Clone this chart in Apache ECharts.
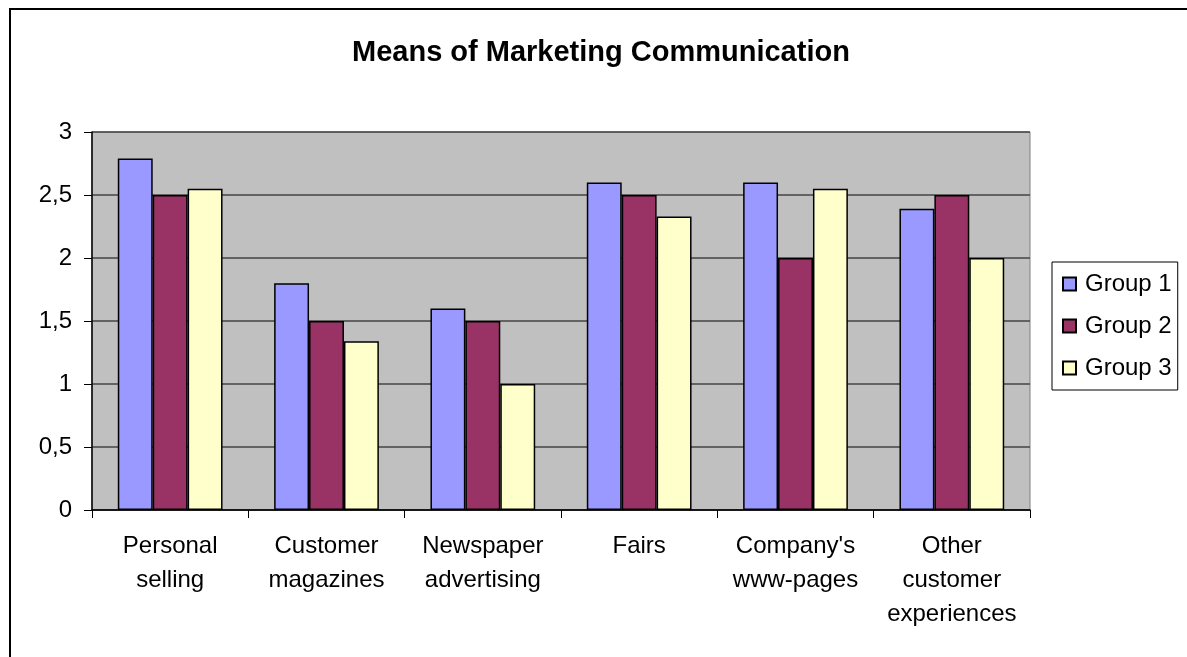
<!DOCTYPE html>
<html>
<head>
<meta charset="utf-8">
<script src="https://cdn.jsdelivr.net/npm/echarts@6/dist/echarts.min.js"></script>
<style>
html,body{margin:0;padding:0;background:#fff;}
#chart{width:1187px;height:657px;}
</style>
</head>
<body>
<div id="chart"></div>
<script>
const titleText = 'Means of Marketing Communication';
const categories = ['Personal selling', 'Customer magazines', 'Newspaper advertising', 'Fairs', "Company's www-pages", 'Other customer experiences'];
const seriesNames = ['Group 1', 'Group 2', 'Group 3'];
const group1 = [2.79, 1.80, 1.60, 2.60, 2.60, 2.39];
const group2 = [2.50, 1.50, 1.50, 2.50, 2.00, 2.50];
const group3 = [2.55, 1.34, 1.00, 2.33, 2.55, 2.00];
const colors = ['#9999ff', '#993366', '#ffffcc'];

const FONT = '"Liberation Sans", Arial, sans-serif';
const chart = echarts.init(document.getElementById('chart'), null, {renderer: 'canvas'});
const allData = [group1, group2, group3];

chart.setOption({
  animation: false,
  backgroundColor: '#ffffff',
  textStyle: {fontFamily: FONT},
  title: {
    text: titleText,
    left: 347,
    top: 33,
    textStyle: {fontFamily: FONT, fontSize: 29, fontWeight: 'bold', color: '#000'}
  },
  graphic: [{
    type: 'rect',
    shape: {x: 10, y: 9, width: 1400, height: 900},
    style: {fill: 'none', stroke: '#000', lineWidth: 2},
    silent: true,
    z: -1
  }],
  legend: {
    orient: 'vertical',
    left: 1052,
    top: 262,
    padding: [10, 6, 10, 10],
    borderColor: '#000',
    borderWidth: 1,
    backgroundColor: '#fff',
    itemWidth: 13,
    itemHeight: 13,
    itemGap: 18,
    icon: 'rect',
    data: seriesNames,
    textStyle: {fontFamily: FONT, fontSize: 24, color: '#000', padding: [0, 0, 0, 4]}
  },
  grid: {
    left: 92, right: 157, top: 132, bottom: 147,
    show: true,
    backgroundColor: '#c0c0c0',
    borderColor: '#808080',
    borderWidth: 1,
    containLabel: false
  },
  xAxis: {
    type: 'category',
    data: categories,
    axisLine: {lineStyle: {color: '#000', width: 1.5}},
    axisTick: {show: true, length: 8, lineStyle: {color: '#000'}},
    axisLabel: {
      interval: 0,
      margin: 19,
      fontFamily: FONT,
      fontSize: 24,
      lineHeight: 34,
      color: '#000',
      formatter: v => v.split(' ').join('\n')
    },
    splitLine: {show: false}
  },
  yAxis: {
    type: 'value',
    min: 0,
    max: 3,
    interval: 0.5,
    axisLine: {show: true, lineStyle: {color: '#000', width: 1.5}},
    axisTick: {show: true, length: 8, lineStyle: {color: '#000'}},
    axisLabel: {
      margin: 20,
      fontFamily: FONT,
      fontSize: 24,
      color: '#000',
      formatter: v => String(v).replace('.', ',')
    },
    splitLine: {show: true, lineStyle: {color: '#444', width: 1.5}}
  },
  series: seriesNames.map((name, i) => ({
    name: name,
    type: 'bar',
    data: allData[i],
    barGap: '0%',
    barCategoryGap: '33%',
    itemStyle: {color: colors[i], borderColor: '#000', borderWidth: 1.5}
  }))
});
</script>
</body>
</html>
